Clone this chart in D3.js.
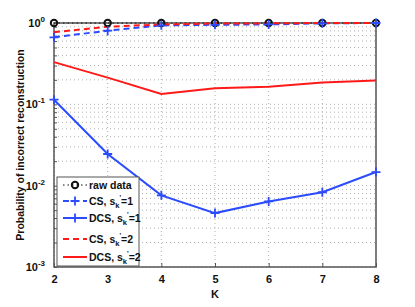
<!DOCTYPE html>
<html>
<head>
<meta charset="utf-8">
<script src="https://cdn.jsdelivr.net/npm/d3@7"></script>
<style>
  body { margin: 0; background: #fff; }
  text { font-family: "Liberation Sans", Arial, sans-serif; font-weight: bold; }
</style>
</head>
<body>
<svg id="chart" width="415" height="307"></svg>
<script>
const K = [2, 3, 4, 5, 6, 7, 8]
const rawData = [1, 1, 1, 1, 1, 1, 1]
const csS1 = [0.667, 0.805, 0.935, 0.95, 0.96, 0.99, 1.0]
const dcsS1 = [0.114, 0.0245, 0.0076, 0.0046, 0.0064, 0.0083, 0.0147]
const csS2 = [0.77, 0.9, 0.96, 0.985, 0.99, 1.0, 1.0]
const dcsS2 = [0.33, 0.213, 0.134, 0.158, 0.164, 0.185, 0.196]
const yTicks = [1, 0.1, 0.01, 0.001]
const yExp = ['0', '-1', '-2', '-3']

const BLUE = '#2b4bff', RED = '#ff1a1a'

const series = [
  { name: 'raw data', sub: false, values: rawData, color: '#111', dash: '1.5,3', width: 1.2, marker: 'o' },
  { name: 'CS, s', tail: '=1', sub: true, values: csS1, color: BLUE, dash: '6,4', width: 2, marker: '+' },
  { name: 'DCS, s', tail: '=1', sub: true, values: dcsS1, color: BLUE, dash: null, width: 2, marker: '+' },
  { name: 'CS, s', tail: '=2', sub: true, values: csS2, color: RED, dash: '6,4', width: 2, marker: null },
  { name: 'DCS, s', tail: '=2', sub: true, values: dcsS2, color: RED, dash: null, width: 2, marker: null }
]

const margin = { left: 54, top: 23, right: 39, bottom: 40 }
const width = 415 - margin.left - margin.right
const height = 307 - margin.top - margin.bottom

const svg = d3.select('#chart').append('g')
  .attr('transform', `translate(${margin.left},${margin.top})`)

const x = d3.scaleLinear().domain([2, 8]).range([0, width])
const y = d3.scaleLog().domain([0.001, 1]).range([height, 0])

// grid
const minor = []
for (let e = -3; e < 0; e++) for (let m = 1; m < 10; m++) minor.push(m * Math.pow(10, e))
svg.append('g').selectAll('line.gy').data(minor.concat([1])).enter().append('line')
  .attr('x1', 0).attr('x2', width)
  .attr('y1', d => y(d)).attr('y2', d => y(d))
  .attr('stroke', '#b0b0b0').attr('stroke-dasharray', '1,3').attr('stroke-width', 1)
svg.append('g').selectAll('line.gx').data(K).enter().append('line')
  .attr('x1', d => x(d)).attr('x2', d => x(d))
  .attr('y1', 0).attr('y2', height)
  .attr('stroke', '#b0b0b0').attr('stroke-dasharray', '1,3').attr('stroke-width', 1)

// axes
svg.append('g')
  .attr('transform', `translate(0,${height})`)
  .call(d3.axisBottom(x).tickValues(K).tickFormat(d3.format('d')).tickSize(-4).tickPadding(8))
  .call(g => g.select('.domain').remove())
  .call(g => g.selectAll('text').attr('font-size', '11px').attr('fill', '#111'))
  .call(g => g.selectAll('line').attr('stroke', '#555'))

svg.append('g')
  .call(d3.axisLeft(y).tickValues(minor).tickFormat('').tickSize(-3))
  .call(g => g.select('.domain').remove())
  .call(g => g.selectAll('line').attr('stroke', '#555'))

const yl = svg.append('g').selectAll('text').data(yTicks).enter().append('text')
  .attr('x', -9).attr('y', d => y(d) + 4)
  .attr('text-anchor', 'end').attr('font-size', '11px').attr('fill', '#111')
yl.append('tspan').text('10')
yl.append('tspan').attr('dy', -5).attr('font-size', '8px').text((d, i) => yExp[i])

// frame
svg.append('rect').attr('width', width).attr('height', height)
  .attr('fill', 'none').attr('stroke', '#555').attr('stroke-width', 1.5)

// lines
const line = d3.line().x((d, i) => x(K[i])).y(d => y(d))
series.forEach(s => {
  svg.append('path').datum(s.values)
    .attr('d', line).attr('fill', 'none')
    .attr('stroke', s.color).attr('stroke-width', s.width)
    .attr('stroke-dasharray', s.dash)
})

function drawMarker(g, type, cx, cy, color) {
  if (type === 'o') {
    g.append('circle').attr('cx', cx).attr('cy', cy).attr('r', 3.2)
      .attr('fill', 'none').attr('stroke', color).attr('stroke-width', 2)
  } else if (type === '+') {
    g.append('path').attr('d', `M${cx - 4.5},${cy}H${cx + 4.5}M${cx},${cy - 4.5}V${cy + 4.5}`)
      .attr('stroke', color).attr('stroke-width', 1.8)
  }
}

series.forEach(s => {
  if (!s.marker) return
  const g = svg.append('g')
  s.values.forEach((v, i) => drawMarker(g, s.marker, x(K[i]), y(v), s.color))
})

// legend
const legX = 3, legY = 154, legW = 82, legH = 89
const leg = svg.append('g').attr('transform', `translate(${legX},${legY})`)
leg.append('rect').attr('width', legW).attr('height', legH)
  .attr('fill', '#fff').attr('stroke', '#555').attr('stroke-width', 1)
const rowY = [8, 24, 41, 62, 80]
series.forEach((s, i) => {
  const yy = rowY[i]
  leg.append('line').attr('x1', 6).attr('x2', 30).attr('y1', yy).attr('y2', yy)
    .attr('stroke', s.color).attr('stroke-width', s.width).attr('stroke-dasharray', s.dash)
  if (s.marker) drawMarker(leg, s.marker, 18, yy, s.color)
  const t = leg.append('text').attr('x', 32).attr('y', yy + 4)
    .attr('font-size', '10.5px').attr('fill', '#111')
  t.append('tspan').text(s.name)
  if (s.sub) {
    t.append('tspan').attr('dy', 3).attr('font-size', '7.5px').text('k')
    t.append('tspan').attr('dy', -8).attr('font-size', '7px').text("'")
    t.append('tspan').attr('dy', 5).text(s.tail)
  }
})

// labels
svg.append('text')
  .attr('x', width / 2).attr('y', height + 31)
  .attr('text-anchor', 'middle').attr('font-size', '11px').attr('fill', '#111')
  .text('K')
svg.append('text')
  .attr('transform', `translate(-30,${height / 2})rotate(-90)`)
  .attr('text-anchor', 'middle').attr('font-size', '10.5px').attr('fill', '#111')
  .text('Probability of incorrect reconstruction')
</script>
</body>
</html>
